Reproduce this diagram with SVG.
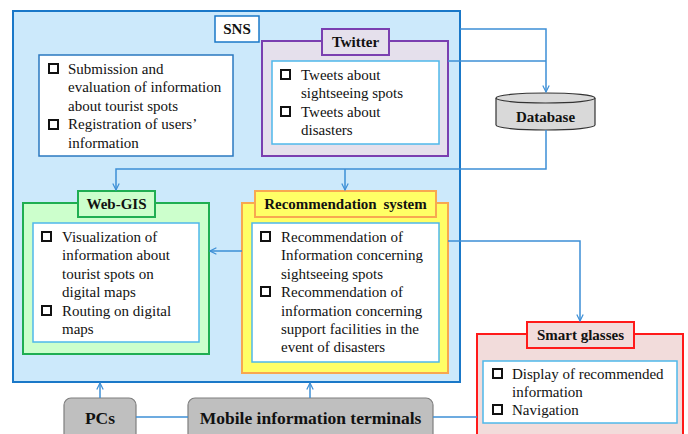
<svg xmlns="http://www.w3.org/2000/svg" width="688" height="434" viewBox="0 0 688 434" font-family="'Liberation Serif', 'Times New Roman', serif">
<style>
text{font-family:'Liberation Serif','Times New Roman',serif;fill:#111}
.t{font-size:15px}
.h{font-size:15px;font-weight:bold;text-anchor:middle}
.big{font-size:17.5px;font-weight:bold;text-anchor:middle}
.in{fill:#fff;stroke:#4fb8ea;stroke-width:1.5}
.bul{fill:#fff;stroke:#111;stroke-width:2}
.c{fill:none;stroke:#3d8fd6;stroke-width:1.5}
</style>
<defs>
<marker id="ah" viewBox="0 0 10 10" refX="9" refY="5" markerWidth="8" markerHeight="8" orient="auto" markerUnits="userSpaceOnUse">
<path d="M1,1 L9,5 L1,9" fill="none" stroke="#3d8fd6" stroke-width="1.5"/>
</marker>
</defs>
<rect width="688" height="434" fill="#fff"/>

<g id="sns">
<rect x="13" y="11" width="447" height="371" fill="#cce9fb" stroke="#1a78c8" stroke-width="2"/>
<rect x="215" y="16" width="44" height="26" fill="#fff" stroke="#1a78c8" stroke-width="1.5"/>
<text class="h" x="237" y="34">SNS</text>
</g>

<g id="sns-functions">
<rect x="39" y="55" width="194" height="101" fill="#fff" stroke="#2a78c0" stroke-width="1.5"/>
<rect class="bul" x="49" y="64" width="9" height="9"/>
<text class="t" x="68" y="74">Submission and</text>
<text class="t" x="68" y="92">evaluation of information</text>
<text class="t" x="68" y="111">about tourist spots</text>
<rect class="bul" x="49" y="120" width="9" height="9"/>
<text class="t" x="68" y="129">Registration of users’</text>
<text class="t" x="68" y="148">information</text>
</g>

<g id="twitter">
<rect x="262" y="41" width="186" height="115" fill="#e5e0ec" stroke="#7a3fb0" stroke-width="2"/>
<rect x="322" y="29" width="67" height="26" fill="#e5e0ec" stroke="#7a3fb0" stroke-width="2"/>
<text class="h" x="355.5" y="47">Twitter</text>
<rect class="in" x="272" y="61" width="167" height="83"/>
<rect class="bul" x="281" y="70" width="9" height="9"/>
<text class="t" x="301" y="80">Tweets about</text>
<text class="t" x="301" y="98">sightseeing spots</text>
<rect class="bul" x="281" y="107" width="9" height="9"/>
<text class="t" x="301" y="117">Tweets about</text>
<text class="t" x="301" y="135">disasters</text>
</g>

<g id="database">
<path d="M496,98 L496,125 A49.5,5 0 0 0 595,125 L595,98" fill="#d9d9d9" stroke="#333" stroke-width="1.2"/>
<ellipse cx="545.5" cy="98" rx="49.5" ry="5" fill="#d9d9d9" stroke="#333" stroke-width="1.2"/>
<text class="h" x="545.5" y="122">Database</text>
</g>

<g id="webgis">
<rect x="23" y="203" width="186" height="151" fill="#ccffcc" stroke="#1fae52" stroke-width="2"/>
<rect x="78" y="191" width="77" height="26" fill="#ccffcc" stroke="#1fae52" stroke-width="2"/>
<text class="h" x="116.5" y="209">Web-GIS</text>
<rect class="in" x="33" y="223" width="166" height="119"/>
<rect class="bul" x="42" y="232" width="9" height="9"/>
<text class="t" x="62" y="242">Visualization of</text>
<text class="t" x="62" y="260">information about</text>
<text class="t" x="62" y="279">tourist spots on</text>
<text class="t" x="62" y="297">digital maps</text>
<rect class="bul" x="42" y="306" width="9" height="9"/>
<text class="t" x="62" y="316">Routing on digital</text>
<text class="t" x="62" y="334">maps</text>
</g>

<g id="recommendation">
<rect x="242" y="203" width="206" height="170" fill="#ffff66" stroke="#f8a850" stroke-width="2"/>
<rect x="255" y="191" width="181" height="26" fill="#ffff66" stroke="#f8a850" stroke-width="2"/>
<text class="h" x="345.5" y="209" word-spacing="3">Recommendation system</text>
<rect class="in" x="252" y="223" width="187" height="139"/>
<rect class="bul" x="261" y="232" width="9" height="9"/>
<text class="t" x="281" y="242">Recommendation of</text>
<text class="t" x="281" y="260">Information concerning</text>
<text class="t" x="281" y="279">sightseeing spots</text>
<rect class="bul" x="261" y="287" width="9" height="9"/>
<text class="t" x="281" y="297">Recommendation of</text>
<text class="t" x="281" y="316">information concerning</text>
<text class="t" x="281" y="334">support facilities in the</text>
<text class="t" x="281" y="352">event of disasters</text>
</g>

<g id="smart-glasses">
<rect x="477" y="334" width="206" height="110" fill="#f2dcdb" stroke="#ff1a1a" stroke-width="2"/>
<rect x="527" y="322" width="107" height="26" fill="#f2dcdb" stroke="#ff1a1a" stroke-width="2"/>
<text class="h" x="580.5" y="340">Smart glasses</text>
<rect class="in" x="483" y="361" width="194" height="62"/>
<rect class="bul" x="493" y="369" width="9" height="9"/>
<text class="t" x="512" y="379">Display of recommended</text>
<text class="t" x="512" y="397">information</text>
<rect class="bul" x="493" y="405" width="9" height="9"/>
<text class="t" x="512" y="415">Navigation</text>
</g>

<g id="pcs">
<rect x="64" y="398" width="72" height="50" rx="7" fill="#bfbfbf" stroke="#7f7f7f" stroke-width="1.2"/>
<text class="big" x="100" y="424">PCs</text>
</g>

<g id="mobile">
<rect x="188" y="398" width="245" height="50" rx="7" fill="#bfbfbf" stroke="#7f7f7f" stroke-width="1.2"/>
<text class="big" x="310.5" y="424">Mobile information terminals</text>
</g>

<g id="connectors">
<path class="c" d="M460,29 L546,29 L546,92" marker-end="url(#ah)"/>
<path class="c" d="M448,61 L546,61"/>
<path class="c" d="M546,130 L546,169 L116,169 L116,190" marker-end="url(#ah)"/>
<path class="c" d="M345,169 L345,190" marker-end="url(#ah)"/>
<path class="c" d="M242,251 L210,251" marker-end="url(#ah)"/>
<path class="c" d="M448,241 L580,241 L580,321" marker-end="url(#ah)"/>
<path class="c" d="M100,398 L100,383" marker-end="url(#ah)"/>
<path class="c" d="M310,398 L310,383" marker-end="url(#ah)"/>
<path class="c" d="M136,417 L188,417"/>
<path class="c" d="M433,417 L477,417"/>
</g>
</svg>
